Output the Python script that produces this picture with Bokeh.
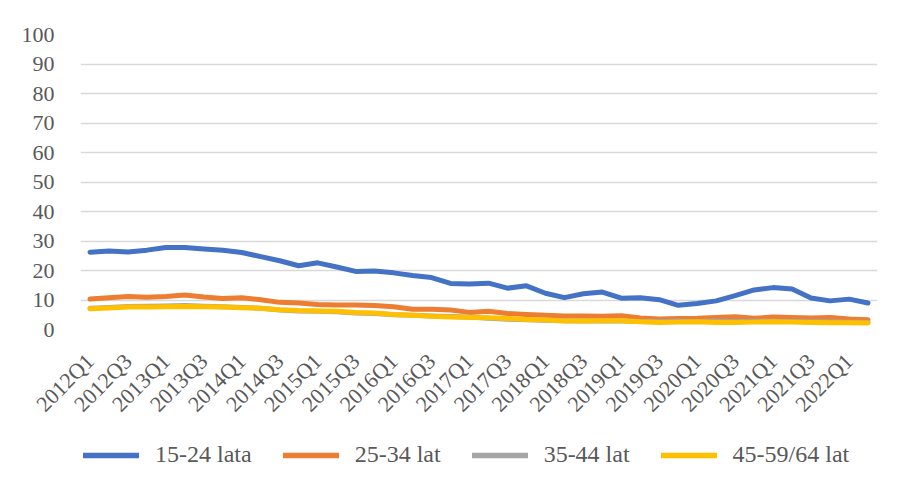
import math
from bokeh.plotting import figure
from bokeh.layouts import column
from bokeh.models import Range1d, FixedTicker, Legend, LegendItem
from bokeh.embed import file_html
from bokeh.resources import INLINE

quarters = [f"{y}Q{q}" for y in range(2012, 2023) for q in range(1, 5)][:42]

s15_24 = [26.2, 26.6, 26.3, 26.9,
          27.8, 27.8, 27.3, 26.9,
          26.1, 24.7, 23.3, 21.6,
          22.6, 21.2, 19.7, 19.8,
          19.2, 18.3, 17.6, 15.6,
          15.4, 15.7, 14.0, 14.8,
          12.3, 10.8, 12.1, 12.7,
          10.6, 10.8, 10.1, 8.2,
          8.8, 9.7, 11.5, 13.4,
          14.2, 13.7, 10.7, 9.7,
          10.3, 9.0]
s25_34 = [10.3, 10.8, 11.2, 10.9,
          11.2, 11.7, 11.0, 10.5,
          10.8, 10.1, 9.2, 9.0,
          8.5, 8.3, 8.3, 8.1,
          7.7, 6.9, 6.9, 6.6,
          5.8, 6.2, 5.4, 5.1,
          4.8, 4.6, 4.6, 4.5,
          4.7, 3.9, 3.6, 3.7,
          3.8, 4.1, 4.3, 3.8,
          4.2, 4.1, 3.9, 4.1,
          3.6, 3.3]
s35_44 = [7.2, 7.5, 7.8, 7.9,
          8.0, 8.1, 7.9, 7.7,
          7.5, 7.2, 6.6, 6.3,
          6.2, 6.0, 5.6, 5.4,
          5.0, 4.8, 4.6, 4.4,
          4.2, 3.8, 3.5, 3.3,
          3.1, 3.0, 2.9, 3.0,
          2.9, 2.7, 2.7, 2.8,
          2.7, 2.8, 2.7, 2.8,
          2.8, 2.7, 2.6, 2.6,
          2.5, 2.5]
s45_64 = [7.0, 7.3, 7.6, 7.6,
          7.7, 7.8, 7.7, 7.6,
          7.4, 7.2, 6.7, 6.4,
          6.3, 6.2, 5.8, 5.6,
          5.1, 4.8, 4.5, 4.2,
          4.1, 4.0, 3.7, 3.4,
          3.2, 2.9, 2.9, 3.0,
          3.0, 2.6, 2.4, 2.5,
          2.6, 2.4, 2.4, 2.5,
          2.6, 2.5, 2.4, 2.3,
          2.3, 2.2]

series_names = ["15-24 lata", "25-34 lat", "35-44 lat", "45-59/64 lat"]
series_values = [s15_24, s25_34, s35_44, s45_64]
colors = ["#4472C4", "#ED7D31", "#A5A5A5", "#FFC000"]
y_ticks = list(range(0, 101, 10))

FONT = "Liberation Serif"
TXT = "#595959"

p = figure(width=906, height=433, output_backend="svg", toolbar_location=None,
           x_range=Range1d(-0.5, len(quarters) - 0.5), y_range=Range1d(0, 100),
           min_border_left=80, min_border_right=29, min_border_top=34, min_border_bottom=104)
p.outline_line_color = None
p.background_fill_color = "white"
p.border_fill_color = "white"

xs = list(range(len(quarters)))
for vals, c in zip(series_values, colors):
    p.line(xs, vals, line_color=c, line_width=5, line_cap="round", line_join="round")

p.xgrid.grid_line_color = None
p.ygrid.grid_line_color = "#D9D9D9"
p.ygrid.grid_line_width = 1.5
p.yaxis.ticker = FixedTicker(ticks=y_ticks)
p.xaxis.ticker = FixedTicker(ticks=xs[::2])
p.xaxis.major_label_overrides = {i: quarters[i] for i in xs}
p.xaxis.major_label_orientation = math.pi / 4

for ax in (p.xaxis, p.yaxis):
    ax.axis_line_color = None
    ax.major_tick_line_color = None
    ax.minor_tick_line_color = None
    ax.major_label_text_font = FONT
    ax.major_label_text_font_size = "22px"
    ax.major_label_text_color = TXT
p.yaxis.major_label_standoff = 20
p.xaxis.major_label_standoff = 22

# legend strip (its frame is aligned with the chart's frame by the column layout)
pl = figure(width=906, height=54, output_backend="svg", toolbar_location=None,
            x_range=Range1d(0, 1), y_range=Range1d(0, 1),
            min_border_left=80, min_border_right=29, min_border_top=0, min_border_bottom=0)
pl.axis.visible = False
pl.grid.grid_line_color = None
pl.outline_line_color = None
pl.background_fill_color = "white"
pl.border_fill_color = "white"
items = []
for name, c in zip(series_names, colors):
    # proxy renderers, kept outside the visible range; used only for legend swatches
    r = pl.line(x=[-5, -4], y=[-5, -5], line_color=c, line_width=5.5, line_cap="round")
    items.append(LegendItem(label=name, renderers=[r]))
legend = Legend(items=items, orientation="horizontal", location=(3, 19),
                label_text_font=FONT, label_text_font_size="24px", label_text_color=TXT,
                label_text_baseline="middle",
                glyph_width=56, glyph_height=24, label_height=24, label_standoff=16, spacing=31,
                border_line_color=None, background_fill_alpha=0, margin=0, padding=0)
pl.add_layout(legend, "center")

layout = column(p, pl, spacing=0)
open("out.html", "w").write(file_html(layout, INLINE))
